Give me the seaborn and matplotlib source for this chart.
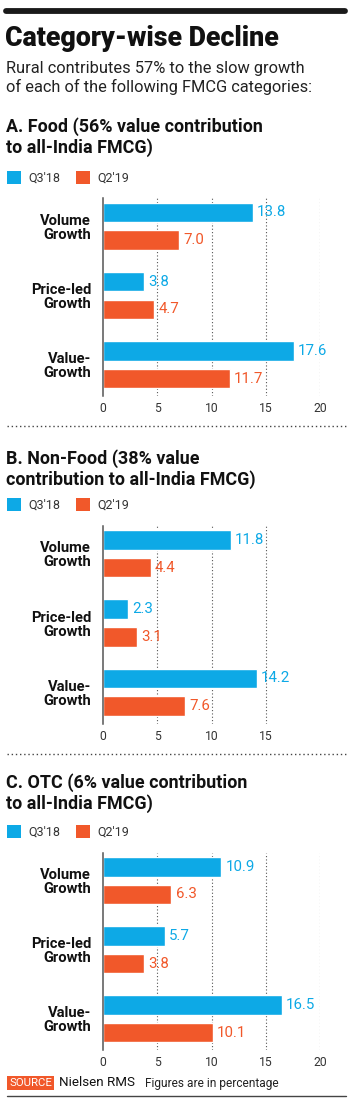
import matplotlib
matplotlib.use("Agg")
import matplotlib.pyplot as plt
import matplotlib.patches as mpatches
import pandas as pd
import seaborn as sns

# data
categories = ["Volume\nGrowth", "Price-led\nGrowth", "Value-\nGrowth"]
periods = ["Q3'18", "Q2'19"]
food_q3 = [13.8, 3.8, 17.6]
food_q2 = [7.0, 4.7, 11.7]
nonfood_q3 = [11.8, 2.3, 14.2]
nonfood_q2 = [4.4, 3.1, 7.6]
otc_q3 = [10.9, 5.7, 16.5]
otc_q2 = [6.3, 3.8, 10.1]

sections = [
    ("A. Food (56% value contribution\nto all-India FMCG)", food_q3, food_q2, [0, 5, 10, 15, 20]),
    ("B. Non-Food (38% value\ncontribution to all-India FMCG)", nonfood_q3, nonfood_q2, [0, 5, 10, 15]),
    ("C. OTC (6% value contribution\nto all-India FMCG)", otc_q3, otc_q2, [0, 5, 10, 15, 20]),
]

BLUE = "#0DA9E6"
ORANGE = "#F1582A"
W, H = 350, 1101

sns.set_style("white")
plt.rcParams['font.family'] = ['Roboto', 'DejaVu Sans']

fig = plt.figure(figsize=(W / 100, H / 100), dpi=100)


def fx(x):
    return x / W


def fy(y):
    return 1 - y / H


# top rule
fig.add_artist(plt.Line2D([fx(6), fx(345)], [fy(10.5), fy(10.5)], color="#1a1a1a", lw=4.2))

fig.text(fx(5), fy(39), "Category-wise Decline", fontsize=19.3, fontweight="heavy",
         color="#111111", va="center", ha="left")
fig.text(fx(6), fy(78), "Rural contributes 57% to the slow growth\nof each of the following FMCG categories:",
         fontsize=11.8, color="#222222", va="center", ha="left", linespacing=1.2)

# layout per section: title centre, legend centre, axes top, axes bottom (pixels)
layout = [
    (137, 178, 198.5, 396),
    (469, 505, 526, 723.5),
    (793, 832, 853, 1050),
]
separators = [426, 754]

for (title, q3, q2, ticks), (ty, ly, top, bottom) in zip(sections, layout):
    fig.text(fx(6), fy(ty), title, fontsize=12.9, fontweight="bold", color="#111111",
             va="center", ha="left", linespacing=1.1)

    df = pd.DataFrame({
        "category": categories * 2,
        "value": q3 + q2,
        "period": [periods[0]] * 3 + [periods[1]] * 3,
    })

    left, right = 103, 320
    ax = fig.add_axes([fx(left), fy(bottom), (right - left) / W, (bottom - top) / H])
    sns.barplot(data=df, y="category", x="value", hue="period", orient="h",
                palette=[BLUE, ORANGE], width=0.8, gap=0.3, ax=ax, saturation=1)

    for cont, col in zip(ax.containers, [BLUE, ORANGE]):
        ax.bar_label(cont, fmt="%.1f", padding=3, color=col, fontsize=10.8)

    ax.set_xlim(0, 20)
    ax.set_ylim(2.45, -0.40)
    for t in ticks[1:]:
        ax.axvline(t, color="#555555", lw=0.8, ls=(0, (1, 2)), zorder=0)
    ax.set_xticks(ticks)
    ax.set_xticklabels([str(t) for t in ticks])
    ax.set_xlabel("")
    ax.set_ylabel("")
    for s in ["top", "right", "bottom"]:
        ax.spines[s].set_visible(False)
    ax.spines["left"].set_color("#555555")
    ax.spines["left"].set_linewidth(1.1)
    ax.tick_params(axis="x", length=0, pad=4.5, labelsize=8.7, labelcolor="#333333")
    ax.tick_params(axis="y", length=0, pad=8.5)
    for lab in ax.get_yticklabels():
        lab.set_fontweight("bold")
        lab.set_fontsize(10.6)
        lab.set_color("#111111")
        lab.set_linespacing(1.0)

    h = bottom - top
    handles = [mpatches.Patch(facecolor=c, edgecolor="none") for c in (BLUE, ORANGE)]
    ax.legend(handles, periods, ncol=2, loc="center left",
              bbox_to_anchor=((7 - left) / (right - left), 1 + (top - ly) / h),
              frameon=False, handlelength=1.1, handleheight=1.2, handletextpad=0.6,
              columnspacing=1.3, fontsize=9, borderaxespad=0, borderpad=0,
              labelcolor="#333333")

for sy in separators:
    fig.add_artist(plt.Line2D([fx(7), fx(346)], [fy(sy), fy(sy)], color="#444444",
                              lw=1.0, ls=(0, (1, 2))))

# footer
fig.text(fx(9), fy(1083), "SOURCE", fontsize=8.2, color="white", va="center", ha="left",
         bbox=dict(boxstyle="square,pad=0.2", fc=ORANGE, ec="none"))
fig.text(fx(59), fy(1083), "Nielsen RMS", fontsize=9.6, color="#111111", va="center", ha="left")
fig.text(fx(145), fy(1083), "Figures are in percentage", fontsize=8.6, color="#222222",
         va="center", ha="left")
fig.add_artist(plt.Line2D([fx(7), fx(346)], [fy(1095.5), fy(1095.5)], color="#444444", lw=1.0))

fig.savefig("out.png", dpi=100, facecolor="white")
